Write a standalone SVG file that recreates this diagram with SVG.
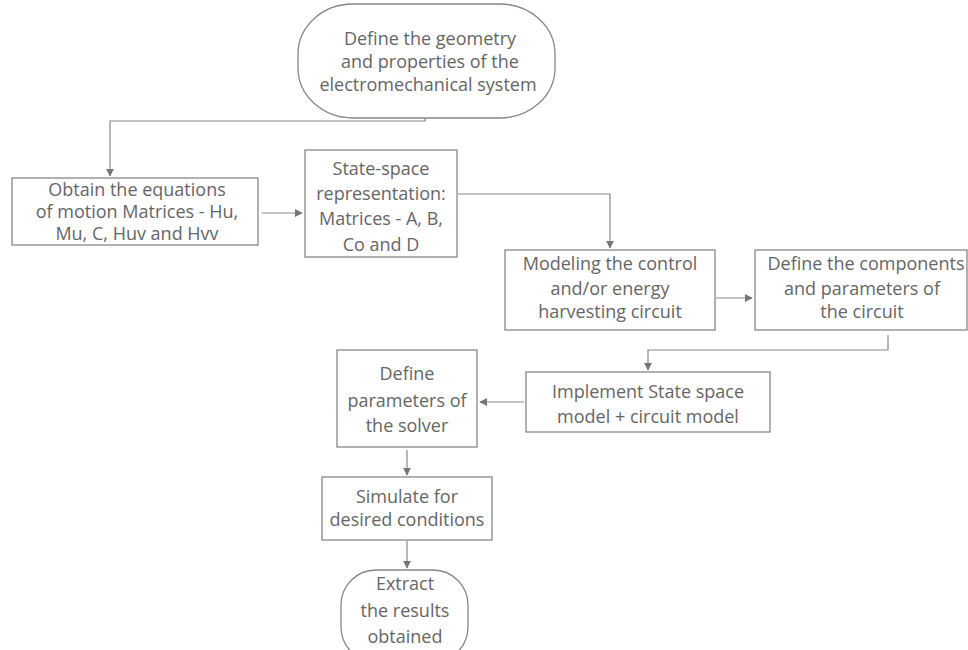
<svg xmlns="http://www.w3.org/2000/svg" width="968" height="650" viewBox="0 0 968 650">
<defs>
<marker id="ah" viewBox="0 0 10 10" refX="9" refY="5" markerWidth="8" markerHeight="8" orient="auto" markerUnits="userSpaceOnUse">
<path d="M0,0 L10,5 L0,10 z" fill="#777"/>
</marker>
<style>
.box{fill:#fff;stroke:#888;stroke-width:1.3}
.t{font-family:"Open Sans","Liberation Sans",sans-serif;font-size:18px;fill:#666;text-anchor:middle}
.c{fill:none;stroke:#888;stroke-width:1.2}
</style>
</defs>
<rect width="968" height="650" fill="#fff"/>
<g id="connectors">
<path class="c" d="M425,116 L425,121 L110,121 L110,176" marker-end="url(#ah)"/>
<path class="c" d="M262,213 L302,213" marker-end="url(#ah)"/>
<path class="c" d="M458,194 L610,194 L610,248" marker-end="url(#ah)"/>
<path class="c" d="M716,298 L752,298" marker-end="url(#ah)"/>
<path class="c" d="M888,335 L888,350 L648,350 L648,370" marker-end="url(#ah)"/>
<path class="c" d="M524,402 L480,402" marker-end="url(#ah)"/>
<path class="c" d="M407,450 L407,475" marker-end="url(#ah)"/>
<path class="c" d="M407,541 L407,568" marker-end="url(#ah)"/>
</g>
<g id="n1">
<rect class="box" x="298" y="4" width="257" height="114" rx="55" ry="50"/>
<text class="t" x="430" y="45">Define the geometry</text>
<text class="t" x="430" y="68">and properties of the</text>
<text class="t" x="428" y="91">electromechanical system</text>
</g>
<g id="n2">
<rect class="box" x="12" y="178" width="246" height="67"/>
<text class="t" x="137" y="196">Obtain the equations</text>
<text class="t" x="137" y="218">of motion  Matrices - Hu,</text>
<text class="t" x="137" y="240">Mu, C, Huv and Hvv</text>
</g>
<g id="n3">
<rect class="box" x="305" y="150" width="152" height="107"/>
<text class="t" x="381" y="175">State-space</text>
<text class="t" x="381" y="200">representation:</text>
<text class="t" x="381" y="225">Matrices - A, B,</text>
<text class="t" x="381" y="251">Co and D</text>
</g>
<g id="n4">
<rect class="box" x="505" y="250" width="210" height="80"/>
<text class="t" x="610" y="270">Modeling the control</text>
<text class="t" x="610" y="295">and/or energy</text>
<text class="t" x="610" y="318">harvesting circuit</text>
</g>
<g id="n5">
<rect class="box" x="755" y="250" width="212" height="80"/>
<text class="t" x="866" y="270">Define the components</text>
<text class="t" x="862" y="295">and parameters of</text>
<text class="t" x="862" y="318">the circuit</text>
</g>
<g id="n6">
<rect class="box" x="526" y="372" width="244" height="60"/>
<text class="t" x="648" y="398">Implement State space</text>
<text class="t" x="648" y="423">model + circuit model</text>
</g>
<g id="n7">
<rect class="box" x="337" y="350" width="140" height="97"/>
<text class="t" x="407" y="380">Define</text>
<text class="t" x="407" y="407">parameters of</text>
<text class="t" x="407" y="432">the solver</text>
</g>
<g id="n8">
<rect class="box" x="322" y="477" width="170" height="63"/>
<text class="t" x="407" y="503">Simulate for</text>
<text class="t" x="407" y="526">desired conditions</text>
</g>
<g id="n9">
<rect class="box" x="341" y="570" width="127" height="92" rx="35" ry="35"/>
<text class="t" x="405" y="590">Extract</text>
<text class="t" x="405" y="617">the results</text>
<text class="t" x="405" y="643">obtained</text>
</g>
</svg>
